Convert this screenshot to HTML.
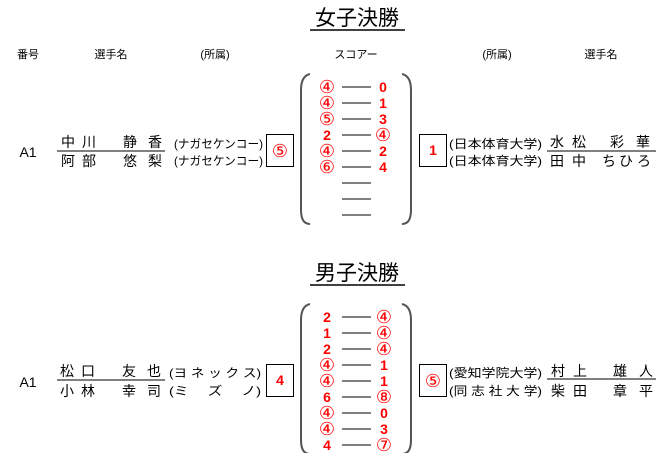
<!DOCTYPE html>
<html><head><meta charset="utf-8"><style>
html,body{margin:0;padding:0;background:#fff;width:656px;height:453px;overflow:hidden}
svg{display:block}
text{font-family:"Liberation Sans","Noto Sans CJK JP",sans-serif}
.h{font-size:11px;fill:#000}
.n{font-size:14px;fill:#000}
.a{font-size:12px;fill:#000}
.s{font-size:14px;fill:#f00;font-weight:bold}
.c{font-size:18px;fill:#f00;font-weight:normal;font-family:"DejaVu Sans","Noto Sans CJK JP",sans-serif}
.t{font-size:21px;fill:#000}
</style></head><body>
<svg width="656" height="453" viewBox="0 0 656 453" xmlns="http://www.w3.org/2000/svg">
<text class="t" x="357" y="25" text-anchor="middle">女子決勝</text>
<line x1="310" y1="30" x2="405" y2="30" stroke="#000" stroke-width="1.5"/>
<text class="t" x="357" y="280" text-anchor="middle">男子決勝</text>
<line x1="310" y1="285" x2="405" y2="285" stroke="#000" stroke-width="1.5"/>

<g class="h" text-anchor="middle">
<text x="28" y="58">番号</text>
<text x="111" y="58">選手名</text>
<text x="215" y="58">(所属)</text>
<text x="356" y="58">スコアー</text>
<text x="497" y="58">(所属)</text>
<text x="601" y="58">選手名</text>
</g>

<!-- Women -->
<text class="n" x="28" y="157" text-anchor="middle">A1</text>
<g class="n" text-anchor="middle">
<text x="68" y="147">中</text><text x="89" y="147">川</text><text x="130" y="147">静</text><text x="155" y="147">香</text>
<text x="68" y="166">阿</text><text x="89" y="166">部</text><text x="130" y="166">悠</text><text x="155" y="166">梨</text>
<text x="557" y="147">水</text><text x="579" y="147">松</text><text x="617" y="147">彩</text><text x="643" y="147">華</text>
<text x="557" y="166">田</text><text x="579" y="166">中</text><text x="609" y="166">ち</text><text x="626" y="166">ひ</text><text x="644" y="166">ろ</text>
</g>
<line x1="57" y1="151" x2="165" y2="151" stroke="#000"/>
<line x1="547" y1="151" x2="656" y2="151" stroke="#000"/>
<text class="a" x="174" y="148" textLength="89" lengthAdjust="spacingAndGlyphs">(ナガセケンコー)</text>
<text class="a" x="174" y="165" textLength="89" lengthAdjust="spacingAndGlyphs">(ナガセケンコー)</text>
<text class="a" x="449" y="148" textLength="93" lengthAdjust="spacingAndGlyphs">(日本体育大学)</text>
<text class="a" x="449" y="165" textLength="93" lengthAdjust="spacingAndGlyphs">(日本体育大学)</text>
<rect x="266.5" y="134.5" width="27" height="32" fill="none" stroke="#000"/>
<text class="c" x="280" y="157" text-anchor="middle">⑤</text>
<rect x="419.5" y="134.5" width="27" height="32" fill="none" stroke="#000"/>
<text class="s" x="433" y="155" text-anchor="middle">1</text>
<path d="M310,74 Q301,76 301,90 V210 Q301,224 310,224" fill="none" stroke="#555" stroke-width="2"/>
<path d="M402,74 Q411,76 411,90 V210 Q411,224 402,224" fill="none" stroke="#555" stroke-width="2"/>
<g stroke="#000">
<line x1="342" y1="87" x2="371" y2="87"/><line x1="342" y1="103" x2="371" y2="103"/><line x1="342" y1="119" x2="371" y2="119"/>
<line x1="342" y1="135" x2="371" y2="135"/><line x1="342" y1="151" x2="371" y2="151"/><line x1="342" y1="167" x2="371" y2="167"/>
<line x1="342" y1="183" x2="371" y2="183"/><line x1="342" y1="199" x2="371" y2="199"/><line x1="342" y1="215" x2="371" y2="215"/>
</g>
<g class="s" text-anchor="middle">
<text class="c" x="327" y="93">④</text><text x="383" y="92">0</text>
<text class="c" x="327" y="109">④</text><text x="383" y="108">1</text>
<text class="c" x="327" y="125">⑤</text><text x="383" y="124">3</text>
<text x="327" y="140">2</text><text class="c" x="383" y="141">④</text>
<text class="c" x="327" y="157">④</text><text x="383" y="156">2</text>
<text class="c" x="327" y="173">⑥</text><text x="383" y="172">4</text>
</g>

<!-- Men -->
<text class="n" x="28" y="387" text-anchor="middle">A1</text>
<g class="n" text-anchor="middle">
<text x="67" y="376">松</text><text x="88" y="376">口</text><text x="129" y="376">友</text><text x="154" y="376">也</text>
<text x="67" y="396">小</text><text x="88" y="396">林</text><text x="129" y="396">幸</text><text x="154" y="396">司</text>
<text x="558" y="376">村</text><text x="580" y="376">上</text><text x="620" y="376">雄</text><text x="646" y="376">人</text>
<text x="558" y="396">柴</text><text x="580" y="396">田</text><text x="620" y="396">章</text><text x="646" y="396">平</text>
</g>
<line x1="57" y1="380" x2="165" y2="380" stroke="#000"/>
<line x1="547" y1="379" x2="656" y2="379" stroke="#000"/>
<text class="a" x="169" y="377" textLength="92" lengthAdjust="spacingAndGlyphs">(ヨ ネ ッ ク ス)</text>
<text class="a" x="169" y="395" textLength="92" lengthAdjust="spacingAndGlyphs">(ミ　 ズ　 ノ)</text>
<text class="a" x="449" y="377" textLength="93" lengthAdjust="spacingAndGlyphs">(愛知学院大学)</text>
<text class="a" x="449" y="395" textLength="93" lengthAdjust="spacingAndGlyphs">(同 志 社 大 学)</text>
<rect x="266.5" y="364.5" width="27" height="32" fill="none" stroke="#000"/>
<text class="s" x="280" y="385" text-anchor="middle">4</text>
<rect x="419.5" y="364.5" width="27" height="32" fill="none" stroke="#000"/>
<text class="c" x="433" y="387" text-anchor="middle">⑤</text>
<path d="M310,304 Q301,306 301,320 V440 Q301,454 310,454" fill="none" stroke="#555" stroke-width="2"/>
<path d="M402,304 Q411,306 411,320 V440 Q411,454 402,454" fill="none" stroke="#555" stroke-width="2"/>
<g stroke="#000">
<line x1="342" y1="317" x2="371" y2="317"/><line x1="342" y1="333" x2="371" y2="333"/><line x1="342" y1="349" x2="371" y2="349"/>
<line x1="342" y1="365" x2="371" y2="365"/><line x1="342" y1="381" x2="371" y2="381"/><line x1="342" y1="397" x2="371" y2="397"/>
<line x1="342" y1="413" x2="371" y2="413"/><line x1="342" y1="429" x2="371" y2="429"/><line x1="342" y1="445" x2="371" y2="445"/>
</g>
<g class="s" text-anchor="middle">
<text x="327" y="322">2</text><text class="c" x="384" y="323">④</text>
<text x="327" y="338">1</text><text class="c" x="384" y="339">④</text>
<text x="327" y="354">2</text><text class="c" x="384" y="355">④</text>
<text class="c" x="327" y="371">④</text><text x="384" y="370">1</text>
<text class="c" x="327" y="387">④</text><text x="384" y="386">1</text>
<text x="327" y="402">6</text><text class="c" x="384" y="403">⑧</text>
<text class="c" x="327" y="419">④</text><text x="384" y="418">0</text>
<text class="c" x="327" y="435">④</text><text x="384" y="434">3</text>
<text x="327" y="450">4</text><text class="c" x="384" y="451">⑦</text>
</g>
</svg>
</body></html>
